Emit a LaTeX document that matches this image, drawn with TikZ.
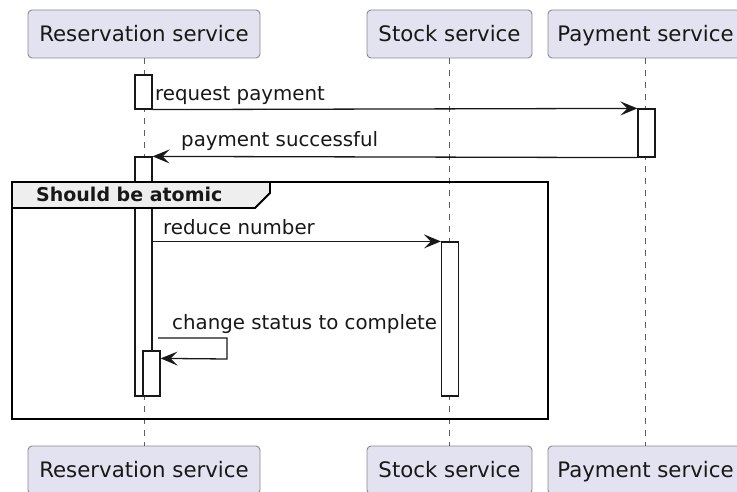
\documentclass[tikz,border=0pt]{standalone}
\usepackage{fontspec}
\setmainfont{DejaVu Sans}
\usetikzlibrary{arrows.meta,calc}
\definecolor{partfill}{HTML}{E2E2F0}
\definecolor{ink}{HTML}{181818}
\definecolor{tabfill}{HTML}{EEEEEE}
\definecolor{partline}{HTML}{8A8A8A}
\begin{document}
\begin{tikzpicture}[x=1pt,y=-1pt,
  participant/.style={draw=partline, line width=0.9pt, fill=partfill,
    rounded corners=4pt, minimum height=48pt, inner sep=0pt,
    text height=17pt, text depth=1.6pt,
    font=\fontsize{21.3}{25}\selectfont, text=ink},
  lifeline/.style={draw=ink!70, line width=0.8pt, dash pattern=on 6pt off 6pt},
  act/.style={draw=ink, line width=1.2pt, fill=white, minimum width=17pt,
    inner sep=0pt},
  msg/.style={draw=ink, line width=1.3pt,
    -{Stealth[length=17pt,width=14pt,inset=7pt]}},
  msglabel/.style={anchor=base west, inner sep=0pt,
    font=\fontsize{19.8}{23}\selectfont, text=ink},
  groupframe/.style={draw=black, line width=2.4pt},
  grouptab/.style={draw=black, line width=1.8pt, fill=tabfill},
  grouplabel/.style={anchor=base west, inner sep=0pt,
    font=\bfseries\fontsize{19}{23}\selectfont, text=ink}
]
\useasboundingbox (0,0) rectangle (737,492);
\clip (0,0) rectangle (737,492);

% participants, top and bottom
\node[participant, minimum width=232pt] (rtop) at (144,34) {Reservation service};
\node[participant, minimum width=165pt] (stop) at (449.5,34) {Stock service};
\node[participant, minimum width=195pt] (ptop) at (645.5,34) {Payment service};
\node[participant, minimum width=232pt] (rbot) at (144,470) {Reservation service};
\node[participant, minimum width=165pt] (sbot) at (449.5,470) {Stock service};
\node[participant, minimum width=195pt] (pbot) at (645.5,470) {Payment service};

% lifelines
\draw[lifeline] (rtop) -- (rbot);
\draw[lifeline] (stop) -- (sbot);
\draw[lifeline] (ptop) -- (pbot);

% activation bars
\node[act, minimum height=34pt]  (a1) at (143.5,92) {};
\node[act, minimum height=239pt] (a2) at (143.5,276.5) {};
\node[act, minimum height=45pt]  (a3) at (151.5,373.5) {};
\node[act, minimum height=48pt]  (p1) at (646.5,133) {};
\node[act, minimum height=154pt] (s1) at (450,319) {};

% messages
\draw[msg] (a1.south east) -- (p1.north west);
\node[msglabel] (l1) at (155,101) {request payment};
\draw[msg] (p1.south west) -- (a2.north east);
\node[msglabel] (l2) at (181,147) {payment successful};
\draw[msg] (a2.east |- s1.north west) -- (s1.north west);
\node[msglabel] (l3) at (163,235) {reduce number};
\coordinate (selfout) at (158,338);
\draw[msg] (selfout) -- ++(69,0) -- ++(0,21) -- ($(a3.north east)+(0,8)$);
\node[msglabel] (l4) at (172,329) {change status to complete};

% group frame
\draw[groupframe] (12,182) rectangle (548,419);
\draw[grouptab] (12,182) -- (270,182) -- (270,193) -- (255,208) -- (12,208) -- cycle;
\node[grouplabel] (glabel) at (36,202) {Should be atomic};
\end{tikzpicture}
\end{document}
